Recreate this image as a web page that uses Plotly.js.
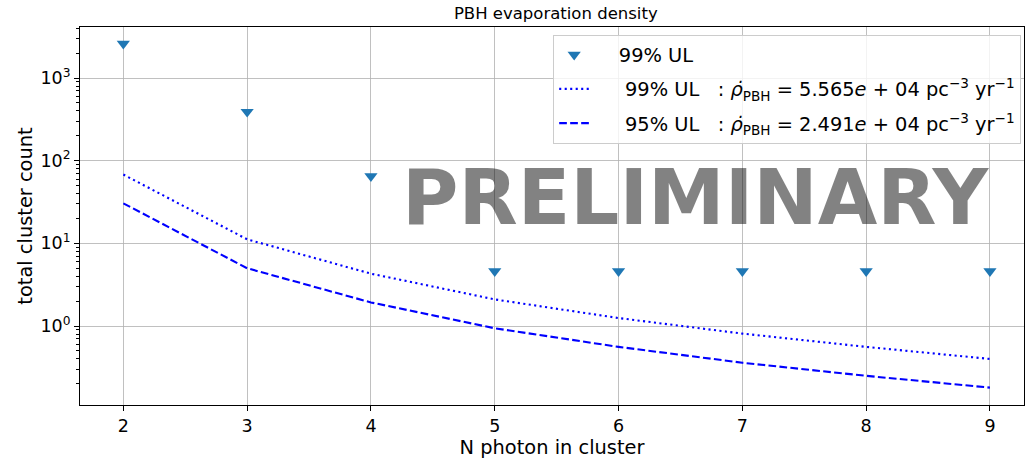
<!DOCTYPE html>
<html>
<head>
<meta charset="utf-8">
<script src="https://cdn.plot.ly/plotly-3.0.1.min.js"></script>
<style>html,body{margin:0;padding:0;background:#fff;}#chart{width:1025px;height:461px;}</style>
</head>
<body>
<div id="chart"></div>
<script>
// Data
const nPhoton = [2, 3, 4, 5, 6, 7, 8, 9];
const ul99Markers = [2600, 390, 65, 4.6, 4.6, 4.6, 4.6, 4.6];
const ul99Line = [68, 11.2, 4.3, 2.1, 1.25, 0.81, 0.56, 0.40];
const ul95Line = [30.5, 5.0, 1.93, 0.94, 0.56, 0.36, 0.25, 0.18];
const yTickVals = [1, 10, 100, 1000];
const yTickText = ['10<sup>0</sup>', '10<sup>1</sup>', '10<sup>2</sup>', '10<sup>3</sup>'];
const labels = {
  markers: '&nbsp;&nbsp;&nbsp;&nbsp;99% UL',
  line99: '&nbsp;&nbsp;&nbsp;&nbsp;&nbsp;99% UL &nbsp;&nbsp;: <i>ρ̇</i><sub>PBH</sub> = 5.565<i>e</i> + 04 pc<sup>−3</sup> yr<sup>−1</sup>',
  line95: '&nbsp;&nbsp;&nbsp;&nbsp;&nbsp;95% UL &nbsp;&nbsp;: <i>ρ̇</i><sub>PBH</sub> = 2.491<i>e</i> + 04 pc<sup>−3</sup> yr<sup>−1</sup>'
};

// minor log ticks (axis decoration)
const minorVals = [];
for (let e = -1; e <= 3; e++) for (let m = 2; m <= 9; m++) minorVals.push(m * Math.pow(10, e));

const font = 'DejaVu Sans, sans-serif';
const traces = [
  {x: nPhoton, y: ul99Markers, type: 'scatter', mode: 'markers', name: labels.markers, legendgroup: 'a',
   marker: {symbol: 'triangle-down', size: 11.5, color: '#1f77b4'}},
  {x: nPhoton, y: ul99Line, type: 'scatter', mode: 'lines', name: labels.line99, legendgroup: 'b',
   line: {color: '#0000ff', width: 2.1, dash: '2.1px,3.4px'}},
  {x: nPhoton, y: ul95Line, type: 'scatter', mode: 'lines', name: labels.line95, legendgroup: 'c',
   line: {color: '#0000ff', width: 2.1, dash: '7.7px,3.3px'}}
];
const layout = {
  width: 1025, height: 461,
  margin: {l: 80, r: 1, t: 27, b: 56, pad: 0, autoexpand: false},
  paper_bgcolor: '#fff', plot_bgcolor: '#fff',
  font: {family: font, color: '#000', size: 17},
  title: {text: 'PBH evaporation density', font: {size: 16.5, family: font}, x: 0.504, xref: 'paper', xanchor: 'center', y: 0.972, yanchor: 'middle'},
  showlegend: true,
  legend: {x: 0.997, y: 0.98, xanchor: 'right', yanchor: 'top', bgcolor: 'rgba(255,255,255,0.8)',
           bordercolor: '#cccccc', borderwidth: 1, font: {size: 19.4, family: font}, tracegroupgap: 6},
  xaxis: {range: [1.65, 9.275], tickvals: nPhoton, ticks: 'outside', ticklen: 5, tickcolor: '#000',
          showgrid: true, gridcolor: '#b0b0b0', gridwidth: 0.8, zeroline: false,
          showline: true, linecolor: '#000', linewidth: 1, mirror: true,
          tickfont: {size: 17.5}, title: {text: 'N photon in cluster', font: {size: 19.4}, standoff: 5}},
  yaxis: {type: 'log', range: [-0.955, 3.617], tickvals: yTickVals, ticktext: yTickText,
          ticks: 'outside', ticklen: 5, tickcolor: '#000',
          minor: {tickvals: minorVals, ticks: 'outside', ticklen: 3, tickcolor: '#000', showgrid: false},
          showgrid: true, gridcolor: '#b0b0b0', gridwidth: 0.8, zeroline: false,
          showline: true, linecolor: '#000', linewidth: 1, mirror: true,
          tickfont: {size: 17.5}, title: {text: 'total cluster count', font: {size: 19.4}, standoff: 2}},
  annotations: [{text: '<b>PRELIMINARY</b>', xref: 'paper', yref: 'paper', x: 0.652, y: 0.55,
                 xanchor: 'center', yanchor: 'middle', showarrow: false,
                 font: {family: 'DejaVu Sans, sans-serif', size: 77, color: 'rgba(0,0,0,0.49)'}}]
};
Plotly.newPlot('chart', traces, layout, {displayModeBar: false, staticPlot: true});
</script>
</body>
</html>
